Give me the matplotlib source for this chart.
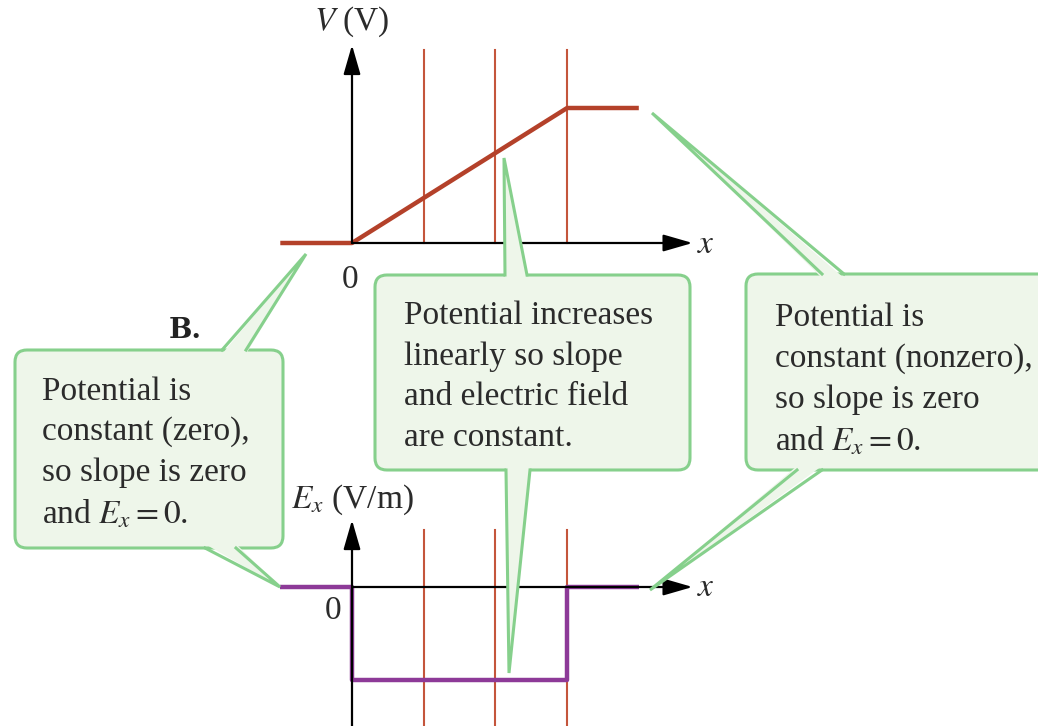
import matplotlib
matplotlib.use("Agg")
import matplotlib.pyplot as plt
from matplotlib.patches import FancyBboxPatch, Polygon

plt.rcParams['font.family'] = 'serif'
plt.rcParams['font.serif'] = ['Liberation Serif', 'DejaVu Serif']
plt.rcParams['mathtext.fontset'] = 'stix'

# ----- data (x in units of plate spacing) -----
v_x = [-1, 0, 3, 4]
v_y = [0, 0, 3, 3]
e_x = [-1, 0, 0, 3, 3, 4]
e_y = [0, 0, -1, -1, 0, 0]
plates = [1, 2, 3]

box_texts = [
    "Potential is\nconstant (zero),\nso slope is zero\nand $E_x = 0$.",
    "Potential increases\nlinearly so slope\nand electric field\nare constant.",
    "Potential is\nconstant (nonzero),\nso slope is zero\nand $E_x = 0$.",
]

W, H = 1038, 726
fig = plt.figure(figsize=(W / 100, H / 100), dpi=100)

RED = '#b4412a'
PLATE = '#c4553c'
PURPLE = '#8d3a98'
GREEN = '#86d08c'
FILL = '#eef6ea'
TXT = '#2b2b2b'


def full_axes(x0, y0, sx, sy, z):
    # axes over the whole figure, origin at pixel (x0, y0), sx/sy px per unit
    ax = fig.add_axes([0, 0, 1, 1], zorder=z)
    ax.set_xlim(-x0 / sx, (W - x0) / sx)
    ax.set_ylim((y0 - H) / sy, y0 / sy)
    ax.axis('off')
    ax.patch.set_alpha(0)
    return ax


arrow = dict(arrowstyle='-|>,head_length=0.9,head_width=0.26', color='black',
             lw=1.6, shrinkA=0, shrinkB=0, mutation_scale=20)

# ----- top: V(x) -----
ax1 = full_axes(352, 243, 71.7, 45, 1)
for p in plates:
    ax1.plot([p, p], [0, 4.29], color=PLATE, lw=1.5)
ax1.annotate('', xy=(0, 4.4), xytext=(0, 0), arrowprops=arrow)
ax1.annotate('', xy=(4.75, 0), xytext=(0, 0), arrowprops=arrow)
ax1.plot(v_x, v_y, color=RED, lw=3.2, solid_capstyle='butt')

# ----- bottom: Ex(x) -----
ax2 = full_axes(352, 587, 71.7, 93, 1)
for p in plates:
    ax2.plot([p, p], [-1.5, 0.61], color=PLATE, lw=1.5)
ax2.annotate('', xy=(0, 0.72), xytext=(0, -1.5), arrowprops=arrow)
ax2.annotate('', xy=(4.75, 0), xytext=(0, 0), arrowprops=arrow)
ax2.plot(e_x, e_y, color=PURPLE, lw=3.2, solid_capstyle='butt')

# ----- overlay in pixel coords: labels and callouts -----
ov = fig.add_axes([0, 0, 1, 1], zorder=3)
ov.set_xlim(0, W)
ov.set_ylim(H, 0)
ov.axis('off')
ov.patch.set_alpha(0)

fs = 24
ov.text(352, 22, '$V$ (V)', fontsize=fs, ha='center', va='center', color=TXT)
ov.text(352, 500, '$E_x$ (V/m)', fontsize=fs, ha='center', va='center', color=TXT)
ov.text(350, 280, '0', fontsize=fs, ha='center', va='center', color=TXT)
ov.text(333, 611, '0', fontsize=fs, ha='center', va='center', color=TXT)
ov.text(706, 245, '$x$', fontsize=fs, ha='center', va='center', color=TXT)
ov.text(706, 588, '$x$', fontsize=fs, ha='center', va='center', color=TXT)
ov.text(185, 330, 'B.', fontsize=20, fontweight='bold', family='DejaVu Serif',
        ha='center', va='center', color='#222222')

# box: (x0, y0, x1, y1), text pos, pointers as (tip, base_a, base_b)
boxes = [
    ((15, 350, 283, 548), (42, 376),
     [((306, 254), (222, 350), (246, 350)), ((280, 587), (205, 548), (236, 548))]),
    ((375, 275, 690, 470), (404, 301),
     [((504, 158), (505, 275), (527, 275)), ((509, 673), (506, 470), (530, 470))]),
    ((746, 274, 1050, 470), (775, 303),
     [((652, 113), (822, 274), (844, 274)), ((650, 590), (797, 470), (822, 470))]),
]

for (x0, y0, x1, y1), (tx, ty), ptrs in boxes:
    ov.add_patch(FancyBboxPatch((x0, y0), x1 - x0, y1 - y0,
                                boxstyle='round,pad=0,rounding_size=12',
                                fc=FILL, ec=GREEN, lw=2.2, zorder=2))
    for tip, a, b in ptrs:
        inward = 4 if a[1] == y0 else -4
        ov.add_patch(Polygon([tip, (a[0], a[1] + inward), (b[0], b[1] + inward)],
                             closed=True, fc=FILL, ec='none', zorder=3))
        ov.plot([a[0], tip[0], b[0]], [a[1], tip[1], b[1]], color=GREEN, lw=2.2,
                zorder=4, solid_joinstyle='miter')

for ((x0, y0, x1, y1), (tx, ty), _), txt in zip(boxes, box_texts):
    ov.text(tx, ty, txt, fontsize=fs, ha='left', va='top', color=TXT,
            linespacing=1.42, zorder=5)

fig.savefig('out.png', dpi=100)
